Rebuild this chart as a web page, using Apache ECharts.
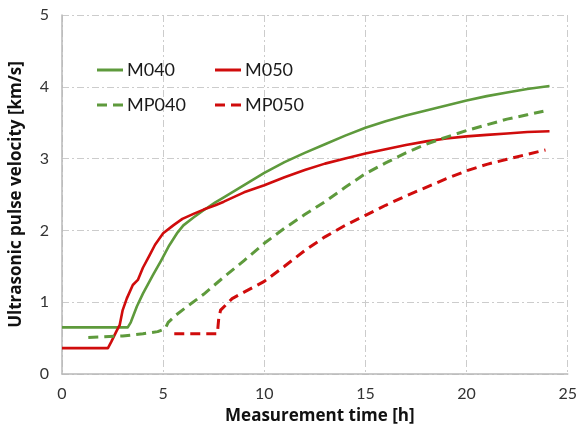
<!DOCTYPE html>
<html>
<head>
<meta charset="utf-8">
<script src="https://cdn.jsdelivr.net/npm/echarts@6/dist/echarts.min.js"></script>
<style>
  html, body { margin: 0; padding: 0; background: #fff; }
  #chart { width: 580px; height: 439px; }
</style>
</head>
<body>
<div id="chart"></div>
<script>
// Ultrasonic pulse velocity [km/s] against measurement time [h]
const m040Time = [0, 3.25, 3.4, 3.7, 4.0, 4.5, 4.9, 5.3, 5.71, 6.0, 6.5, 7.0, 7.58, 8.0, 9.0, 10.0, 11.0, 12.0, 13.0, 14.0, 15.0, 16.0, 17.0, 18.0, 19.0, 20.0, 21.0, 22.0, 23.0, 24.1];
const m040Vel  = [0.65, 0.65, 0.72, 0.94, 1.12, 1.38, 1.58, 1.79, 1.97, 2.07, 2.18, 2.28, 2.39, 2.46, 2.63, 2.8, 2.95, 3.08, 3.2, 3.32, 3.43, 3.52, 3.6, 3.67, 3.74, 3.81, 3.87, 3.92, 3.97, 4.01];

const m050Time = [0, 2.27, 2.44, 2.7, 2.85, 3.0, 3.2, 3.5, 3.75, 4.0, 4.32, 4.6, 5.0, 5.5, 5.95, 6.5, 7.0, 7.58, 8.0, 9.0, 10.0, 11.0, 12.0, 13.0, 14.0, 15.0, 16.0, 17.0, 18.0, 19.0, 20.0, 21.0, 22.0, 23.0, 24.1];
const m050Vel  = [0.36, 0.36, 0.45, 0.6, 0.68, 0.89, 1.05, 1.24, 1.31, 1.48, 1.65, 1.8, 1.96, 2.07, 2.16, 2.23, 2.29, 2.35, 2.4, 2.53, 2.63, 2.74, 2.84, 2.93, 3.0, 3.07, 3.13, 3.19, 3.24, 3.28, 3.31, 3.33, 3.35, 3.37, 3.38];

const mp040Time = [1.3, 3.0, 4.0, 4.73, 5.1, 5.25, 5.63, 6.0, 7.0, 8.0, 9.0, 10.0, 11.0, 12.0, 13.0, 14.0, 15.0, 16.0, 17.0, 18.0, 19.0, 20.0, 21.0, 22.0, 23.0, 23.8];
const mp040Vel  = [0.51, 0.53, 0.56, 0.59, 0.63, 0.72, 0.82, 0.9, 1.11, 1.35, 1.58, 1.82, 2.03, 2.22, 2.4, 2.6, 2.79, 2.94, 3.08, 3.2, 3.3, 3.39, 3.47, 3.55, 3.61, 3.66];

const mp050Time = [5.55, 7.68, 7.75, 7.84, 8.41, 9.0, 10.0, 11.0, 12.0, 13.0, 14.0, 15.0, 16.0, 17.0, 18.0, 19.0, 20.0, 21.0, 22.0, 23.0, 23.9];
const mp050Vel  = [0.56, 0.56, 0.78, 0.89, 1.05, 1.14, 1.29, 1.5, 1.72, 1.91, 2.07, 2.21, 2.35, 2.48, 2.6, 2.72, 2.83, 2.92, 2.99, 3.06, 3.12];

const xTicks = [0, 5, 10, 15, 20, 25];
const yTicks = [0, 1, 2, 3, 4, 5];

const GREEN = '#5e9a3c';
const RED = '#d00c0c';
const FONT = 'Lato, "Open Sans", sans-serif';
const TITLE_FONT = '"Open Sans", Lato, sans-serif';

// legend swatches: a solid bar and a two-dash bar
const SOLID_ICON = 'path://M0,0h26v3h-26z';
const DASH_ICON = 'path://M0,0h10v3h-10zM16,0h10v3h-10z';

const pairs = (t, v) => t.map((x, i) => [x, v[i]]);

function lineSeries(name, t, v, color, dashed) {
  return {
    name: name,
    type: 'line',
    data: pairs(t, v),
    symbol: 'none',
    showSymbol: false,
    smooth: false,
    lineStyle: { color: color, width: dashed ? 3 : 2.6, type: dashed ? [10, 6] : 'solid', cap: 'butt', join: 'round' },
    itemStyle: { color: color },
    emphasis: { disabled: true },
    animation: false
  };
}

function legendAt(name, dashed, left, top) {
  return {
    data: [{ name: name, icon: dashed ? DASH_ICON : SOLID_ICON }],
    left: left,
    top: top,
    itemWidth: 26,
    itemHeight: 3,
    itemGap: 0,
    textStyle: { fontFamily: FONT, fontSize: 18, color: '#1a1a1a', padding: [0, 0, 0, -1] },
    selectedMode: false
  };
}

const gridLine = { show: true, lineStyle: { color: '#cccccc', width: 1, type: [7, 3, 2, 3] } };

const chart = echarts.init(document.getElementById('chart'), null, { renderer: 'canvas' });
chart.setOption({
  backgroundColor: '#ffffff',
  animation: false,
  grid: { left: 62, right: 9, top: 15, bottom: 65, containLabel: false },
  legend: [
    legendAt('M040', false, 92, 56),
    legendAt('M050', false, 210, 56),
    legendAt('MP040', true, 92, 91),
    legendAt('MP050', true, 210, 91)
  ],
  xAxis: {
    type: 'value',
    min: xTicks[0],
    max: xTicks[xTicks.length - 1],
    interval: 5,
    name: 'Measurement time [h]',
    nameLocation: 'middle',
    nameGap: 34,
    nameTextStyle: { fontFamily: TITLE_FONT, fontSize: 17, fontWeight: 'bold', color: '#111', padding: [0, 0, 0, 10] },
    axisLine: { show: true, lineStyle: { color: '#b8b8b8', width: 1.5 } },
    axisTick: { show: false },
    axisLabel: { fontFamily: FONT, fontSize: 16, color: '#333', margin: 12 },
    splitLine: gridLine
  },
  yAxis: {
    type: 'value',
    min: yTicks[0],
    max: yTicks[yTicks.length - 1],
    interval: 1,
    name: 'Ultrasonic pulse velocity [km/s]',
    nameLocation: 'middle',
    nameGap: 37,
    nameRotate: 90,
    nameTextStyle: { fontFamily: TITLE_FONT, fontSize: 17, fontWeight: 'bold', color: '#111' },
    axisLine: { show: true, lineStyle: { color: '#b8b8b8', width: 1.5 } },
    axisTick: { show: false },
    axisLabel: { fontFamily: FONT, fontSize: 16, color: '#333', margin: 13 },
    splitLine: gridLine
  },
  series: [
    lineSeries('M040', m040Time, m040Vel, GREEN, false),
    lineSeries('M050', m050Time, m050Vel, RED, false),
    lineSeries('MP040', mp040Time, mp040Vel, GREEN, true),
    lineSeries('MP050', mp050Time, mp050Vel, RED, true)
  ]
});
</script>
</body>
</html>
